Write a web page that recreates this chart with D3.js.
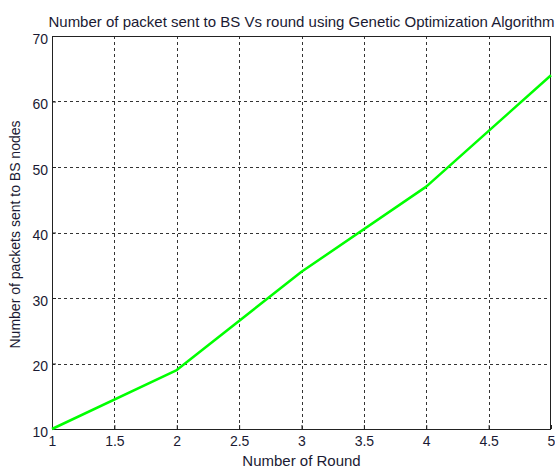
<!DOCTYPE html>
<html>
<head>
<meta charset="utf-8">
<script src="https://cdn.jsdelivr.net/npm/d3@7"></script>
<style>
  html, body { margin: 0; padding: 0; background: #fff; }
  svg { display: block; font-family: "Liberation Sans", Arial, sans-serif; }
</style>
</head>
<body>
<div id="chart"></div>
<script>
// rounds vs packets reaching the base station
const rounds = [1, 2, 3, 4, 5];
const packets = [10, 19, 34, 47, 64];
const xTicks = [1, 1.5, 2, 2.5, 3, 3.5, 4, 4.5, 5];
const yTicks = [10, 20, 30, 40, 50, 60, 70];

const W = 555, H = 468;
const margin = { top: 36, right: 4, bottom: 39, left: 52 };
const innerW = W - margin.left - margin.right;
const innerH = H - margin.top - margin.bottom;

const svg = d3.select("#chart").append("svg")
  .attr("width", W)
  .attr("height", H);

const x = d3.scaleLinear().domain([1, 5]).range([margin.left, margin.left + innerW]);
const y = d3.scaleLinear().domain([10, 70]).range([margin.top + innerH, margin.top]);

const textColor = "#1a1a33";

// dashed grid
const grid = svg.append("g").attr("stroke", "#333").attr("stroke-width", 1)
  .attr("stroke-dasharray", "3,3").attr("shape-rendering", "crispEdges");
grid.selectAll("line.v")
  .data(xTicks.slice(1, -1))
  .join("line")
  .attr("class", "v")
  .attr("x1", (d) => Math.round(x(d)) + 0.5)
  .attr("x2", (d) => Math.round(x(d)) + 0.5)
  .attr("y1", margin.top)
  .attr("y2", margin.top + innerH);
grid.selectAll("line.h")
  .data(yTicks.slice(1, -1))
  .join("line")
  .attr("class", "h")
  .attr("x1", margin.left)
  .attr("x2", margin.left + innerW)
  .attr("y1", (d) => Math.round(y(d)) + 0.5)
  .attr("y2", (d) => Math.round(y(d)) + 0.5);

// axes (ticks inside, matlab style)
const xAxis = svg.append("g")
  .attr("transform", `translate(0,${margin.top + innerH})`)
  .call(d3.axisBottom(x).tickValues(xTicks).tickSize(-4).tickPadding(7)
    .tickFormat(d3.format("")));
const yAxis = svg.append("g")
  .attr("transform", `translate(${margin.left},0)`)
  .call(d3.axisLeft(y).tickValues(yTicks).tickSize(-4).tickPadding(4));

[xAxis, yAxis].forEach((a) => {
  a.select(".domain").remove();
  a.selectAll(".tick line").attr("stroke", "#222");
  a.selectAll(".tick text")
    .style("font-size", "14px")
    .attr("fill", textColor);
});
xAxis.selectAll(".tick text").attr("dy", "0.7em");
yAxis.selectAll(".tick text").attr("dy", "0.5em");

// frame
svg.append("rect")
  .attr("x", margin.left + 0.5)
  .attr("y", margin.top + 0.5)
  .attr("width", innerW - 1)
  .attr("height", innerH)
  .attr("fill", "none")
  .attr("stroke", "#222")
  .attr("stroke-width", 1);

// line
const line = d3.line()
  .x((d, i) => x(rounds[i]))
  .y((d) => y(d));
svg.append("path")
  .datum(packets)
  .attr("d", line)
  .attr("fill", "none")
  .attr("stroke", "#00ff00")
  .attr("stroke-width", 2.5)
  .attr("stroke-linejoin", "round");

// labels
const midX = margin.left + innerW / 2;
svg.append("text")
  .attr("x", midX)
  .attr("y", 27)
  .attr("text-anchor", "middle")
  .style("font-size", "15px")
  .attr("fill", textColor)
  .text("Number of packet sent to BS Vs round using Genetic Optimization Algorithm");

svg.append("text")
  .attr("x", midX)
  .attr("y", 466)
  .attr("text-anchor", "middle")
  .style("font-size", "15px")
  .attr("fill", textColor)
  .text("Number of Round");

svg.append("text")
  .attr("transform", `translate(20,${margin.top + innerH / 2 + 2}) rotate(-90)`)
  .attr("text-anchor", "middle")
  .style("font-size", "14px")
  .attr("fill", textColor)
  .text("Number of packets sent to BS nodes");
</script>
</body>
</html>
